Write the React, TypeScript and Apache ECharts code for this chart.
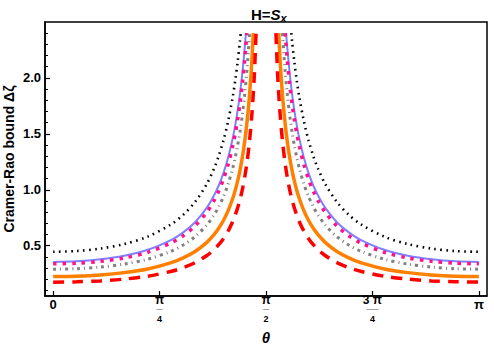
import React, { useEffect, useRef } from 'react';
import * as echarts from 'echarts';

const PI = Math.PI;

// theta in degrees (left branch, 0..90); the right branch is the mirror image theta -> 180 - theta
const blackDotted: [number, number][] = [
  [0, 0.445], [10, 0.452], [20, 0.474], [30, 0.514], [40, 0.581], [50, 0.692], [55, 0.776], [60, 0.89],
  [65, 1.053], [68, 1.188], [70, 1.301], [72, 1.44], [74, 1.614], [76, 1.839], [77, 1.978], [78, 2.14],
  [79, 2.332], [79.3, 2.4],
];
const blueSolid: [number, number][] = [
  [0, 0.355], [10, 0.36], [20, 0.378], [30, 0.41], [40, 0.463], [50, 0.552], [55, 0.619], [60, 0.71],
  [65, 0.84], [68, 0.948], [70, 1.038], [72, 1.149], [74, 1.288], [76, 1.467], [77, 1.578], [78, 1.707],
  [79, 1.86], [80, 2.044], [81, 2.269], [81.5, 2.4],
];
const magentaDotted: [number, number][] = [
  [0, 0.338], [10, 0.343], [20, 0.36], [30, 0.39], [40, 0.441], [50, 0.526], [55, 0.589], [60, 0.676],
  [65, 0.8], [68, 0.902], [70, 0.988], [72, 1.094], [74, 1.226], [76, 1.397], [77, 1.503], [78, 1.626],
  [79, 1.771], [80, 1.946], [81, 2.161], [81.9, 2.4],
];
const grayDashDot: [number, number][] = [
  [0, 0.29], [10, 0.294], [20, 0.309], [30, 0.335], [40, 0.379], [50, 0.451], [55, 0.506], [60, 0.58],
  [65, 0.686], [68, 0.774], [70, 0.848], [72, 0.938], [74, 1.052], [76, 1.199], [77, 1.289], [78, 1.395],
  [79, 1.52], [80, 1.67], [81, 1.854], [82, 2.084], [83, 2.38], [83.06, 2.4],
];
const orangeSolid: [number, number][] = [
  [0, 0.224], [10, 0.227], [20, 0.238], [30, 0.259], [40, 0.292], [50, 0.348], [55, 0.391], [60, 0.448],
  [65, 0.53], [68, 0.598], [70, 0.655], [72, 0.725], [74, 0.813], [76, 0.926], [77, 0.996], [78, 1.077],
  [79, 1.174], [80, 1.29], [81, 1.432], [82, 1.61], [83, 1.838], [84, 2.143], [84.6, 2.4],
];
const redDashed: [number, number][] = [
  [0, 0.174], [10, 0.177], [20, 0.185], [30, 0.201], [40, 0.227], [50, 0.271], [55, 0.303], [60, 0.348],
  [65, 0.412], [68, 0.464], [70, 0.509], [72, 0.563], [74, 0.631], [76, 0.719], [77, 0.774], [78, 0.837],
  [79, 0.912], [80, 1.002], [81, 1.112], [82, 1.25], [83, 1.428], [84, 1.665], [85, 1.996], [85.8, 2.4],
];

const xTickValues = [0, PI / 4, PI / 2, (3 * PI) / 4, PI];
const xTickLabels = [
  '{z|0}',
  '{n|π}\n{bar|—}\n{d|4}',
  '{n|π}\n{bar|—}\n{d|2}',
  '{n|3 π}\n{bar|——}\n{d|4}',
  '{z|π}',
];
const yMajorTicks = [0.5, 1.0, 1.5, 2.0];
const yTickLabels = ['0.5', '1.0', '1.5', '2.0'];
const yMinorTicks = [
  0.1, 0.2, 0.3, 0.4, 0.6, 0.7, 0.8, 0.9, 1.1, 1.2, 1.3, 1.4, 1.6, 1.7, 1.8, 1.9, 2.1, 2.2, 2.3, 2.4,
];

const FONT = 'Liberation Sans, Arial, sans-serif';
const Y_MIN = 0.05;
const Y_MAX = 2.5;

const curves = [
  { data: blackDotted, color: '#000000', width: 2.6, type: [1.6, 4.4] as any },
  { data: blueSolid, color: '#8080FF', width: 2, type: 'solid' as any },
  { data: magentaDotted, color: '#FF108C', width: 3.5, type: [3.5, 6] as any },
  { data: grayDashDot, color: '#808080', width: 3, type: [3, 4, 1, 4] as any },
  { data: orangeSolid, color: '#FF8000', width: 3.5, type: 'solid' as any },
  { data: redDashed, color: '#FF0000', width: 3.5, type: [11, 8] as any },
];

export default function App() {
  const ref = useRef<HTMLDivElement>(null);
  useEffect(() => {
    if (!ref.current) return;
    const chart = echarts.init(ref.current, undefined, { renderer: 'svg' });
    const series: any[] = [];
    curves.forEach((c) => {
      const left = c.data.map(([d, v]) => [(d * PI) / 180, v]);
      const right = c.data.map(([d, v]) => [PI - (d * PI) / 180, v]).reverse();
      [left, right].forEach((data) => {
        series.push({
          type: 'line',
          data,
          yAxisIndex: 0,
          showSymbol: false,
          symbol: 'none',
          smooth: 0.3,
          clip: true,
          lineStyle: { color: c.color, width: c.width, type: c.type, cap: 'butt' },
        });
      });
    });
    chart.setOption({
      animation: false,
      backgroundColor: '#fff',
      title: {
        text: '{h|H=}{s|S}{x|x}',
        left: 246,
        top: 0,
        textStyle: {
          rich: {
            h: { fontSize: 15, fontFamily: FONT, fontWeight: 'bold', color: '#000' },
            s: { fontSize: 15, fontFamily: FONT, fontWeight: 'bold', fontStyle: 'italic', color: '#000' },
            x: { fontSize: 11, fontFamily: FONT, fontWeight: 'bold', fontStyle: 'italic', color: '#000', padding: [7, 0, 0, 0] },
          },
        },
      },
      grid: {
        left: 45, right: 7, top: 22, bottom: 56,
        show: true, borderColor: '#000', borderWidth: 1.5, containLabel: false,
        outerBoundsMode: 'none',
      },
      xAxis: {
        type: 'value',
        min: -0.06,
        max: PI + 0.06,
        name: 'θ',
        nameLocation: 'middle',
        nameGap: 34,
        nameMoveOverlap: false,
        nameTextStyle: { fontFamily: FONT, fontSize: 15, fontWeight: 'bold', fontStyle: 'italic', color: '#000' },
        axisLine: { show: true, onZero: false, lineStyle: { color: '#000', width: 1.5 } },
        axisTick: { show: true, inside: true, length: 5, customValues: xTickValues, lineStyle: { color: '#000', width: 1.2 } },
        splitLine: { show: false },
        axisLabel: {
          customValues: xTickValues,
          margin: -2,
          formatter: (v: number) => xTickLabels[Math.round(v / (PI / 4))] ?? '',
          rich: {
            z: { fontFamily: FONT, fontSize: 13, fontWeight: 'bold', color: '#000', lineHeight: 20 },
            n: { fontFamily: FONT, fontSize: 12, fontWeight: 'bold', color: '#000', lineHeight: 12 },
            bar: { fontFamily: FONT, fontSize: 6, color: '#000', lineHeight: 5 },
            d: { fontFamily: FONT, fontSize: 9, fontWeight: 'bold', color: '#000', lineHeight: 16 },
          },
        },
      },
      yAxis: [
        {
          type: 'value',
          min: Y_MIN,
          max: Y_MAX,
          name: 'Cramer-Rao bound Δζ',
          nameLocation: 'middle',
          nameGap: 29,
          nameMoveOverlap: false,
          nameRotate: 90,
          nameTextStyle: { fontFamily: FONT, fontSize: 14, fontWeight: 'bold', color: '#000' },
          axisLine: { show: true, onZero: false, lineStyle: { color: '#000', width: 1.5 } },
          axisTick: { show: true, inside: true, length: 5, customValues: yMajorTicks, lineStyle: { color: '#000', width: 1.2 } },
          splitLine: { show: false },
          axisLabel: {
            customValues: yMajorTicks,
            margin: 4,
            fontFamily: FONT,
            fontSize: 13,
            fontWeight: 'bold',
            color: '#000',
            formatter: (v: number) => {
              const i = yMajorTicks.findIndex((t) => Math.abs(t - v) < 1e-6);
              return i >= 0 ? yTickLabels[i] : '';
            },
          },
        },
        {
          type: 'value',
          min: Y_MIN,
          max: Y_MAX,
          position: 'left',
          axisLine: { show: false, onZero: false },
          axisTick: { show: true, inside: true, length: 3, customValues: yMinorTicks, lineStyle: { color: '#000', width: 1 } },
          axisLabel: { show: false },
          splitLine: { show: false },
        },
      ],
      series,
    });
    return () => chart.dispose();
  }, []);
  return <div ref={ref} style={{ width: 494, height: 352, position: 'absolute', left: 0, top: 0 }} />;
}
